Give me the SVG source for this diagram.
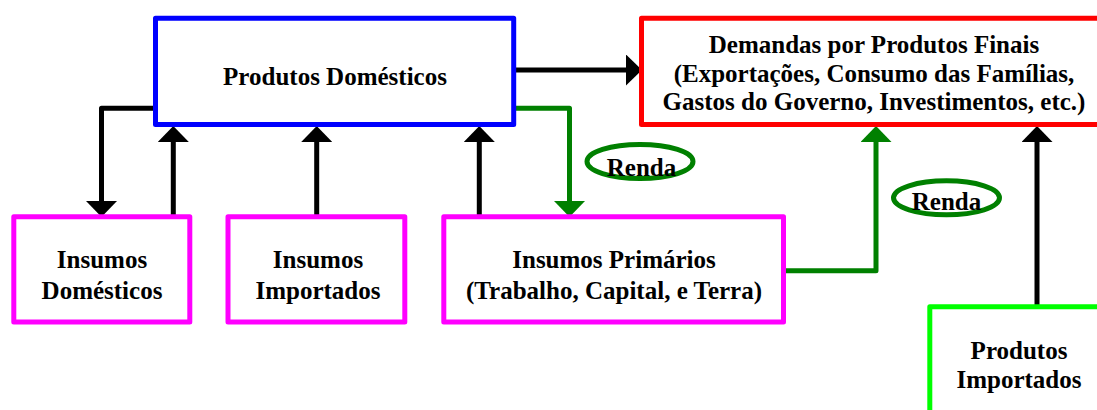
<svg xmlns="http://www.w3.org/2000/svg" width="1097" height="410" viewBox="0 0 1097 410">
  <style>
    .box { fill: #ffffff; stroke-width: 5; stroke-linejoin: round; }
    .blue { stroke: #0000ff; }
    .red { stroke: #ff0000; }
    .mag { stroke: #ff00ff; }
    .lime { stroke: #00ff00; }
    .lbl { font-family: "Liberation Serif", "Times New Roman", serif; font-weight: bold; font-size: 25px; fill: #000000; text-anchor: middle; }
    .conn { fill: none; stroke-width: 5; stroke-linecap: round; stroke-linejoin: round; }
    .k { stroke: #000000; }
    .g { stroke: #008000; }
    .renda { fill: none; stroke: #008000; stroke-width: 5; }
  </style>
  <defs>
    <marker id="ahK" markerUnits="userSpaceOnUse" viewBox="0 0 16 31" refX="0" refY="15.5" markerWidth="16" markerHeight="31" orient="auto">
      <path d="M0,0 L16,15.5 L0,31 Z" fill="#000000"/>
    </marker>
    <marker id="ahG" markerUnits="userSpaceOnUse" viewBox="0 0 16 31" refX="0" refY="15.5" markerWidth="16" markerHeight="31" orient="auto">
      <path d="M0,0 L16,15.5 L0,31 Z" fill="#008000"/>
    </marker>
  </defs>

  <g id="connectors">
    <path class="conn k" d="M513.5,70 L626,70" marker-end="url(#ahK)"/>
    <path class="conn k" d="M155.5,108.2 L101.5,108.2 L101.5,201" marker-end="url(#ahK)"/>
    <path class="conn k" d="M173.3,216.5 L173.3,142" marker-end="url(#ahK)"/>
    <path class="conn k" d="M316.7,216.5 L316.7,142" marker-end="url(#ahK)"/>
    <path class="conn k" d="M479.3,216.5 L479.3,142" marker-end="url(#ahK)"/>
    <path class="conn g" d="M513.7,108.3 L569.5,108.3 L569.5,201" marker-end="url(#ahG)"/>
    <path class="conn g" d="M784,270.7 L876,270.7 L876,142" marker-end="url(#ahG)"/>
    <path class="conn k" d="M1037,306.5 L1037,142" marker-end="url(#ahK)"/>
  </g>

  <g id="produtos-domesticos">
    <rect class="box blue" x="155.5" y="18.3" width="358.2" height="106.2"/>
    <text class="lbl" x="335" y="85">Produtos Domésticos</text>
  </g>

  <g id="demandas-finais">
    <rect class="box red" x="641.5" y="18.3" width="466" height="106.2"/>
    <text class="lbl" x="874" y="53.3">Demandas por Produtos Finais</text>
    <text class="lbl" x="874" y="81.7">(Exportações, Consumo das Famílias,</text>
    <text class="lbl" x="874" y="110">Gastos do Governo, Investimentos, etc.)</text>
  </g>

  <g id="insumos-domesticos">
    <rect class="box mag" x="13.8" y="216.7" width="176" height="105.3"/>
    <text class="lbl" x="102" y="268.3">Insumos</text>
    <text class="lbl" x="102" y="299">Domésticos</text>
  </g>

  <g id="insumos-importados">
    <rect class="box mag" x="228" y="216.7" width="176.8" height="105.3"/>
    <text class="lbl" x="318" y="268.3">Insumos</text>
    <text class="lbl" x="318" y="299">Importados</text>
  </g>

  <g id="insumos-primarios">
    <rect class="box mag" x="443.8" y="216.7" width="339.7" height="105.3"/>
    <text class="lbl" x="614" y="268.3">Insumos Primários</text>
    <text class="lbl" x="614" y="299">(Trabalho, Capital, e Terra)</text>
  </g>

  <g id="produtos-importados">
    <rect class="box lime" x="929.8" y="306.8" width="178" height="115"/>
    <text class="lbl" x="1019" y="359.3">Produtos</text>
    <text class="lbl" x="1019" y="388.3">Importados</text>
  </g>

  <g id="renda-1">
    <ellipse class="renda" cx="640" cy="161.5" rx="53" ry="17"/>
    <text class="lbl" x="641.5" y="175.5">Renda</text>
  </g>

  <g id="renda-2">
    <ellipse class="renda" cx="946.5" cy="197.8" rx="53" ry="17"/>
    <text class="lbl" x="946.5" y="209.5">Renda</text>
  </g>
</svg>
